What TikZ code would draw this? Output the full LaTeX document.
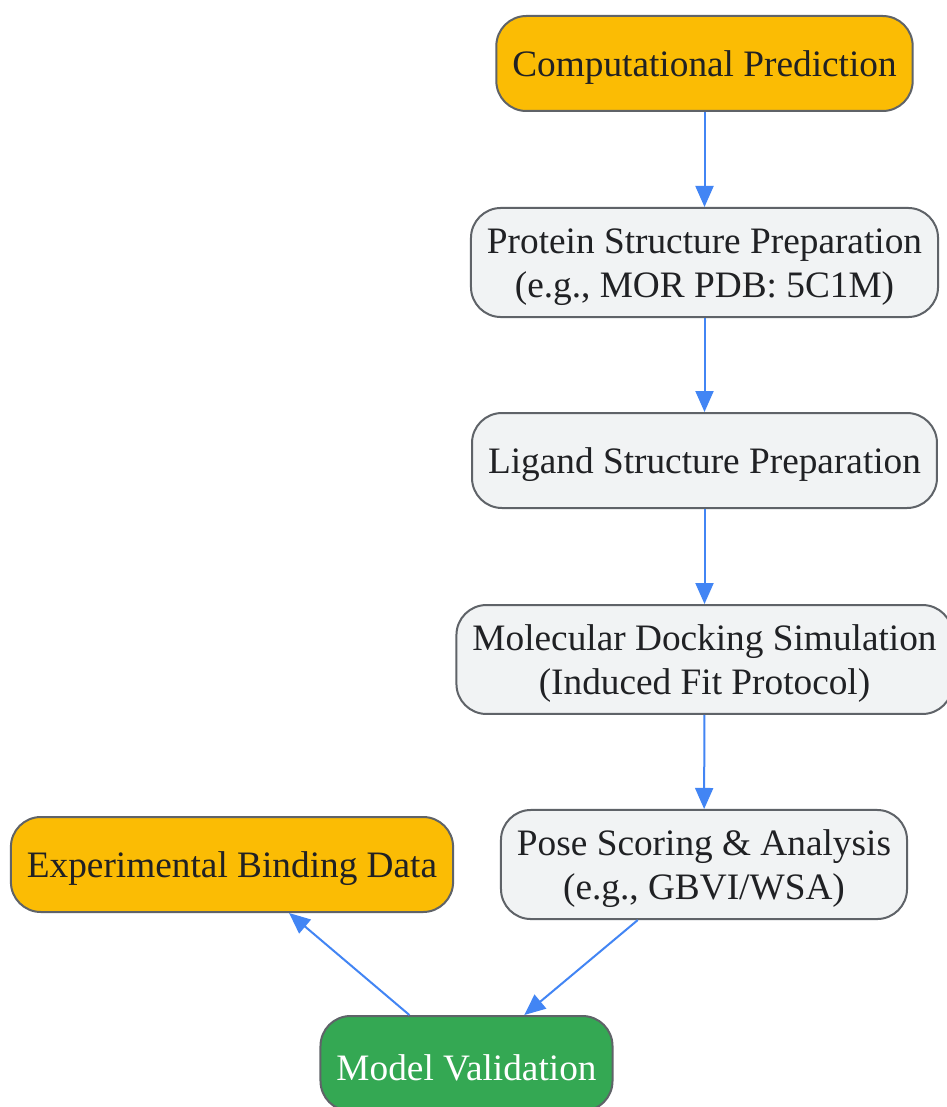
\documentclass[tikz,border=0pt]{standalone}
\usepackage{fontspec}
\setmainfont{Liberation Serif}
\usetikzlibrary{arrows.meta}
\definecolor{predyellow}{HTML}{FBBC04}
\definecolor{stepgray}{HTML}{F1F3F4}
\definecolor{valgreen}{HTML}{34A853}
\definecolor{edgegray}{HTML}{5F6368}
\definecolor{flowblue}{HTML}{4285F4}
\definecolor{inkdark}{HTML}{202124}
\newcommand{\topgap}{\rule{0pt}{34pt}}
\tikzset{
  box/.style={draw=edgegray, line width=2pt, rounded corners=30pt, align=center,
    inner xsep=16pt, inner ysep=11.5pt, minimum height=95pt, text=inkdark,
    font=\fontsize{37.3}{44}\selectfont,
    execute at begin node={\topgap}},
  stepbox/.style={box, fill=stepgray},
  databox/.style={box, fill=predyellow},
  checkbox/.style={box, fill=valgreen, text=white},
  flow/.style={every edge/.append style={draw=flowblue, line width=2pt,
    -{Triangle[length=21pt,width=18pt,fill=flowblue]}}}
}

\begin{document}
\begin{tikzpicture}[x=1pt,y=-1pt]
    \useasboundingbox[fill=white] (0,0) rectangle (946,1107);
    \node[databox](pred) at (704.5,63.5) {Computational Prediction};
    \node[stepbox](prot) at (704.5,262.5) {\topgap Protein Structure Preparation\\(e.g., MOR PDB: 5C1M)};
    \node[stepbox](lig)  at (704.5,460.5) {Ligand Structure Preparation};
    \node[stepbox](dock) at (704.5,659.5) {\topgap Molecular Docking Simulation\\(Induced Fit Protocol)};
    \node[stepbox](pose) at (704,864.5) {\topgap Pose Scoring \& Analysis\\(e.g., GBVI/WSA)};
    \node[databox](expt) at (232,864.5) {Experimental Binding Data};
    \node[checkbox](valid) at (466.5,1063.5) {Model Validation};
    \path[flow]
      (pred) edge (prot)
      (prot) edge (lig)
      (lig) edge (dock)
      (dock) edge (pose)
      (pose) edge (valid)
      (valid) edge (expt)
      ;
\end{tikzpicture}
\end{document}
